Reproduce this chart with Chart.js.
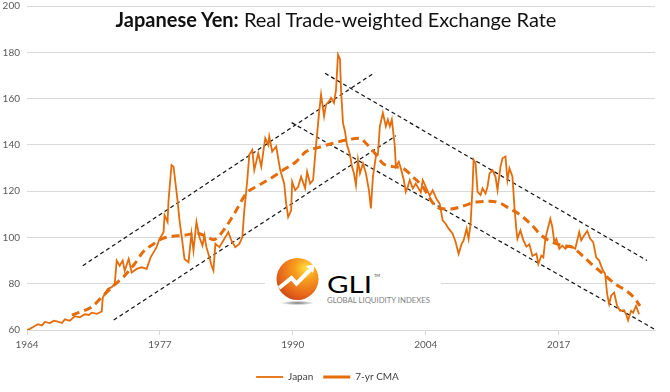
<!DOCTYPE html>
<html>
<head>
<meta charset="utf-8">
<script src="https://cdn.jsdelivr.net/npm/chart.js@4.4.1/dist/chart.umd.min.js"></script>
<style>
  body { margin: 0; background: #fff; }
  #wrap { position: relative; width: 670px; height: 392px; }
  #title {
    position: absolute; left: 0; top: 7px; width: 672px;
    text-align: center; font-family: Lato, "Open Sans", sans-serif;
    font-size: 20px; color: #111; white-space: nowrap;
  }
  #title b { font-weight: 700; }
  #logo { position: absolute; left: 265px; top: 257px; width: 176px; height: 62px; }
</style>
</head>
<body>
<div id="wrap">
  <canvas id="chart" width="670" height="392"></canvas>
  <div id="title"><b>Japanese Yen:</b> Real Trade-weighted Exchange Rate</div>
  <svg id="logo" width="176" height="62" viewBox="0 0 176 62">
    <defs>
      <radialGradient id="ball" cx="0.7" cy="0.25" r="0.85">
        <stop offset="0" stop-color="#ffe040"/>
        <stop offset="0.3" stop-color="#f9a01e"/>
        <stop offset="0.75" stop-color="#e6661a"/>
        <stop offset="1" stop-color="#c9461a"/>
      </radialGradient>
      <radialGradient id="shade" cx="0.5" cy="0.5" r="0.5">
        <stop offset="0" stop-color="#777"/>
        <stop offset="1" stop-color="#fff"/>
      </radialGradient>
    </defs>
    <rect x="0" y="0" width="176" height="62" fill="#fff"/>
    <ellipse cx="32.5" cy="46" rx="17" ry="2.2" fill="url(#shade)"/>
    <circle cx="32.5" cy="22" r="21" fill="url(#ball)"/>
    <polyline points="14,31 26.5,21 31.5,26.5 46,12" fill="none" stroke="#fff" stroke-width="4" stroke-linejoin="miter"/>
    <polygon points="41,9 50,7 48,16" fill="#fff"/>
    <text x="62" y="36" font-family="Lato, sans-serif" font-size="24" fill="#000" textLength="45" lengthAdjust="spacingAndGlyphs">GLI</text>
    <text x="109" y="20" font-family="Lato, sans-serif" font-size="4" fill="#333">TM</text>
    <text x="62" y="46" font-family="Lato, sans-serif" font-size="7.5" fill="#7f7f7f" textLength="103" lengthAdjust="spacingAndGlyphs">GLOBAL LIQUIDITY INDEXES</text>
  </svg>
</div>
<script>
// Japan real trade-weighted index
const japanYears = [
  1964.0, 1964.3, 1964.7, 1965.1, 1965.5, 1965.8, 1966.3, 1966.7, 1967.1, 1967.5,
  1967.8, 1968.3, 1968.8, 1969.3, 1969.8, 1970.2, 1970.5, 1971.0, 1971.5, 1971.6,
  1972.1, 1972.5, 1972.8, 1973.0, 1973.3, 1973.6, 1973.8, 1974.2, 1974.5, 1975.0,
  1975.5, 1976.0, 1976.4, 1977.0, 1977.3, 1977.7, 1977.8, 1978.1, 1978.2, 1978.5,
  1978.7, 1979.1, 1979.3, 1979.5, 1979.8, 1980.2, 1980.5, 1980.7, 1981.0, 1981.3,
  1981.6, 1981.8, 1982.0, 1982.3, 1982.5, 1982.7, 1982.9, 1983.3, 1983.7, 1984.2,
  1984.5, 1984.9, 1985.3, 1985.6, 1985.8, 1986.1, 1986.3, 1986.6, 1986.8, 1987.2,
  1987.5, 1987.9, 1988.2, 1988.3, 1988.6, 1989.0, 1989.4, 1989.8, 1990.0, 1990.2,
  1990.5, 1990.6, 1990.9, 1991.2, 1991.5, 1991.9, 1992.1, 1992.4, 1992.7, 1993.0,
  1993.3, 1993.5, 1993.8, 1994.0, 1994.3, 1994.5, 1994.8, 1995.0, 1995.2, 1995.4,
  1995.5, 1995.7, 1995.9, 1996.1, 1996.4, 1996.6, 1996.8, 1997.0, 1997.2, 1997.4,
  1997.7, 1998.0, 1998.3, 1998.5, 1998.7, 1999.0, 1999.2, 1999.4, 1999.7, 2000.0,
  2000.2, 2000.4, 2000.6, 2000.9, 2001.0, 2001.3, 2001.5, 2001.8, 2002.0, 2002.2,
  2002.4, 2002.7, 2003.0, 2003.3, 2003.5, 2003.7, 2004.0, 2004.4, 2004.7, 2005.1,
  2005.4, 2005.7, 2006.0, 2006.3, 2006.7, 2007.0, 2007.3, 2007.6, 2007.8, 2008.1,
  2008.3, 2008.5, 2008.7, 2008.8, 2009.0, 2009.2, 2009.5, 2009.7, 2010.0, 2010.2,
  2010.4, 2010.7, 2011.0, 2011.2, 2011.5, 2011.7, 2012.0, 2012.2, 2012.4, 2012.7,
  2012.9, 2013.1, 2013.2, 2013.5, 2013.8, 2014.1, 2014.4, 2014.7, 2015.1, 2015.3,
  2015.6, 2015.8, 2016.0, 2016.2, 2016.5, 2016.7, 2016.9, 2017.1, 2017.4, 2017.7,
  2018.0, 2018.4, 2018.7, 2019.0, 2019.4, 2019.6, 2019.9, 2020.2, 2020.5, 2020.8,
  2021.1, 2021.4, 2021.7, 2022.0, 2022.2, 2022.4, 2022.6, 2022.9, 2023.2, 2023.5,
  2023.9, 2024.1, 2024.3, 2024.6, 2024.8, 2025.1, 2025.4
];
const japanValues = [
  60.0, 60.5, 61.5, 62.5, 62.0, 63.5, 63.0, 64.0, 63.6, 63.0,
  64.6, 64.0, 66.0, 65.5, 66.8, 66.5, 67.5, 67.0, 68.0, 74.0,
  77.7, 78.5, 79.9, 90.0, 87.8, 90.0, 85.6, 90.7, 84.9, 86.4,
  87.1, 86.4, 91.4, 95.8, 99.4, 102.3, 109.6, 106.7, 116.0, 131.3,
  130.6, 116.0, 107.4, 101.0, 90.7, 89.3, 101.6, 94.3, 106.7, 100.1,
  96.5, 100.9, 95.8, 91.4, 88.0, 85.7, 97.2, 95.8, 98.7, 102.3,
  98.7, 95.8, 97.2, 100.1, 111.7, 124.8, 135.7, 137.8, 129.1, 136.4,
  130.6, 142.9, 140.0, 143.6, 137.1, 139.3, 129.1, 123.3, 114.6, 108.8,
  111.7, 124.1, 120.4, 121.9, 126.2, 121.2, 128.4, 123.3, 124.8, 140.0,
  153.8, 161.7, 152.3, 157.4, 158.8, 160.3, 158.1, 163.9, 179.0, 177.0,
  163.9, 149.4, 145.8, 140.0, 135.7, 130.6, 127.7, 122.6, 133.5, 127.7,
  132.0, 127.7, 120.4, 112.5, 126.2, 135.0, 135.7, 148.0, 153.8, 148.0,
  150.9, 148.0, 150.9, 139.3, 130.6, 132.7, 129.9, 124.8, 119.7, 121.9,
  124.8, 121.2, 123.3, 121.0, 119.5, 124.8, 121.9, 118.0, 120.4, 116.5,
  114.6, 107.4, 105.9, 103.8, 101.6, 98.0, 92.9, 97.2, 98.7, 103.8,
  99.4, 105.9, 121.9, 133.5, 132.0, 119.7, 118.3, 121.2, 119.0, 121.9,
  127.7, 129.1, 126.2, 120.4, 130.6, 134.2, 135.0, 124.8, 129.9, 126.2,
  113.2, 103.0, 99.4, 103.0, 98.7, 96.0, 97.0, 92.0, 93.0, 88.5,
  92.2, 91.4, 99.4, 103.0, 108.1, 104.5, 98.0, 99.4, 95.1, 96.5,
  95.1, 96.5, 95.8, 95.1, 102.3, 98.7, 100.9, 102.8, 99.4, 98.0,
  91.4, 90.0, 86.4, 84.2, 75.5, 71.2, 74.8, 76.2, 70.4, 68.3,
  68.5, 66.8, 64.2, 68.3, 67.5, 70.4, 66.8
];

// 7-year centred moving average
const cmaYears = [
  1968.5, 1969.5, 1970.5, 1971.8, 1972.8, 1973.8, 1974.8, 1975.7, 1976.7, 1977.5,
  1978.5, 1979.8, 1981.0, 1982.0, 1982.7, 1983.7, 1984.8, 1986.0, 1987.3, 1988.7,
  1989.7, 1991.0, 1992.0, 1993.2, 1994.7, 1996.4, 1997.4, 1998.0, 1998.9, 1999.7,
  2000.7, 2001.7, 2002.7, 2003.7, 2004.7, 2005.5, 2006.5, 2007.7, 2009.1, 2010.4,
  2011.4, 2012.4, 2013.4, 2014.6, 2015.7, 2016.7, 2017.7, 2018.7, 2019.7, 2020.6,
  2021.4, 2022.2, 2023.0, 2024.1, 2024.9, 2025.5
];
const cmaValues = [
  66.5, 68.0, 70.0, 75.5, 79.6, 83.5, 88.6, 94.0, 97.2, 99.4,
  100.4, 100.9, 101.8, 100.5, 99.0, 103.0, 110.3, 119.0, 122.6, 126.2,
  129.1, 132.7, 137.1, 138.8, 140.7, 142.4, 142.9, 140.7, 136.4, 132.0,
  130.6, 129.9, 126.2, 121.9, 115.0, 112.5, 112.3, 113.5, 115.3, 115.6,
  114.9, 112.5, 110.0, 105.5, 100.5, 98.0, 96.5, 95.8, 92.2, 88.6,
  85.7, 82.8, 79.9, 77.0, 74.0, 70.4
];

// hand-drawn channel lines: [startYear, startValue, endYear, endValue]
const channelUpTop = [1969.6, 87.8, 1998.9, 171.3];
const channelUpBottom = [1972.7, 64.3, 2001.0, 143.9];
const channelDownTop = [1993.9, 170.9, 2026.2, 90.0];
const channelDownBottom = [1990.55, 149.6, 2027.0, 60.2];

const xTickLabels = ['1964', '1977', '1990', '2004', '2017'];
const yMin = 60, yMax = 200, yStep = 20;

const orange = '#E46C0A';

function pairs(xs, ys) {
  return xs.map((x, i) => ({ x: x, y: ys[i] }));
}
function segment(s) {
  return [{ x: s[0], y: s[1] }, { x: s[2], y: s[3] }];
}
function channelSet(s) {
  return {
    label: '',
    data: segment(s),
    borderColor: '#111',
    borderWidth: 1.2,
    borderDash: [4, 3],
    pointRadius: 0,
    fill: false
  };
}

Chart.defaults.font.family = 'Lato, "Open Sans", sans-serif';
Chart.defaults.color = '#595959';

new Chart(document.getElementById('chart'), {
  type: 'line',
  data: {
    datasets: [
      {
        label: 'Japan',
        data: pairs(japanYears, japanValues),
        borderColor: orange,
        backgroundColor: orange,
        borderWidth: 1.8,
        pointRadius: 0,
        tension: 0
      },
      {
        label: '7-yr CMA',
        data: pairs(cmaYears, cmaValues),
        borderColor: orange,
        backgroundColor: orange,
        borderWidth: 3,
        borderDash: [8, 5],
        pointRadius: 0,
        cubicInterpolationMode: 'monotone'
      },
      channelSet(channelUpTop),
      channelSet(channelUpBottom),
      channelSet(channelDownTop),
      channelSet(channelDownBottom)
    ]
  },
  options: {
    responsive: false,
    animation: false,
    layout: { padding: { top: 6, right: 15, left: 0, bottom: 0 } },
    plugins: {
      title: { display: false },
      tooltip: { enabled: false },
      legend: {
        position: 'bottom',
        labels: {
          filter: item => item.text !== '',
          usePointStyle: true,
          pointStyle: 'line',
          pointStyleWidth: 27,
          boxHeight: 10,
          padding: 10,
          color: '#404040',
          font: { size: 10 }
        }
      }
    },
    scales: {
      x: {
        type: 'linear',
        min: 1964,
        max: 2027,
        afterBuildTicks: scale => {
          scale.ticks = xTickLabels.map((l, i) => ({ value: 1964 + i * 160 / 12 }));
        },
        afterFit: scale => { scale.height = 32; },
        ticks: {
          autoSkip: false,
          maxRotation: 0,
          padding: 4,
          font: { size: 10 },
          callback: (v, i) => xTickLabels[i]
        },
        grid: { drawOnChartArea: false, drawTicks: true, tickLength: 5, color: '#d9d9d9' },
        border: { display: true, color: '#d9d9d9' }
      },
      y: {
        min: yMin,
        max: yMax,
        afterFit: scale => {
          scale.width = 27;
          scale.paddingTop = 0;
          scale.paddingBottom = 0;
        },
        ticks: { stepSize: yStep, padding: 7, font: { size: 10 } },
        grid: { color: '#d9d9d9', drawTicks: false },
        border: { display: false }
      }
    }
  }
});
</script>
</body>
</html>
